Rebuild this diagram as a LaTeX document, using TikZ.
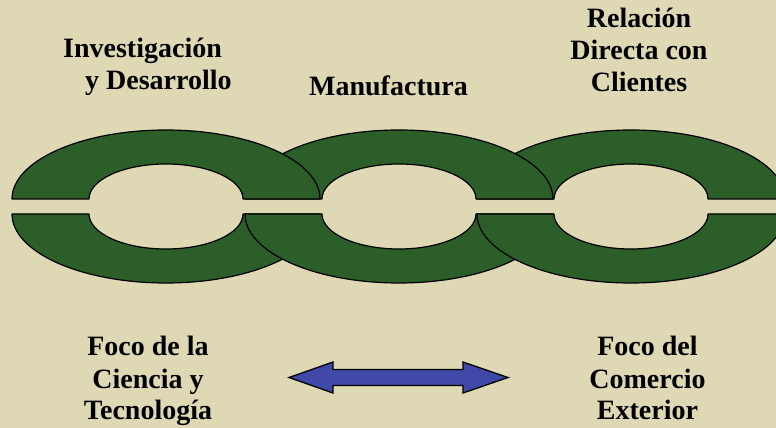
\documentclass[tikz,border=0pt]{standalone}
\usepackage{fontspec}
\setmainfont{Liberation Serif}
\definecolor{bg}{HTML}{DED8B4}
\definecolor{linkgreen}{HTML}{2C5E29}
\definecolor{arrowblue}{HTML}{4048A8}
\begin{document}
\begin{tikzpicture}[x=1pt,y=1pt,
  linkpart/.style={fill=linkgreen,draw=black,line width=1.2pt,line join=round},
  lbl/.style={font=\fontsize{28}{32}\selectfont\bfseries,inner sep=0pt,anchor=base},
  dblarrow/.style={fill=arrowblue,draw=black,line width=1.3pt,line join=miter}]
\fill[bg] (0,0) rectangle (776,428);
\useasboundingbox (0,0) rectangle (776,428);
\clip (0,0) rectangle (776,428);
% upper halves: 3,2,1
\foreach \cx in {631,399,166}{
  \draw[linkpart] (\cx-154,229) arc[start angle=180,end angle=0,x radius=154,y radius=69]
    -- (\cx+77,229) arc[start angle=0,end angle=180,x radius=77,y radius=35] -- cycle;
}
% lower halves: 1,2,3
\foreach \cx in {166,399,631}{
  \draw[linkpart] (\cx-154,214) arc[start angle=180,end angle=360,x radius=154,y radius=69]
    -- (\cx+77,214) arc[start angle=360,end angle=180,x radius=77,y radius=35] -- cycle;
}
% double arrow
\draw[dblarrow] (289,50.5) -- (333,66) -- (333,58.5) -- (463,58.5) -- (463,66) -- (508,50.5)
  -- (463,35) -- (463,42.5) -- (333,42.5) -- (333,35) -- cycle;
% labels (base anchor = last line's baseline)
\node[lbl,align=left,anchor=base west] (id) at (63,338) {Investigación\\\hspace*{22pt}y Desarrollo};
\node[lbl] (man) at (388.5,332) {Manufactura};
\node[lbl,align=center] (rel) at (639,336) {Relación\\Directa con\\Clientes};
\node[lbl,align=center] (cyt) at (148,8) {Foco de la\\Ciencia y\\Tecnología};
\node[lbl,align=center] (ce) at (647.5,8) {Foco del\\Comercio\\Exterior};
\end{tikzpicture}
\end{document}
